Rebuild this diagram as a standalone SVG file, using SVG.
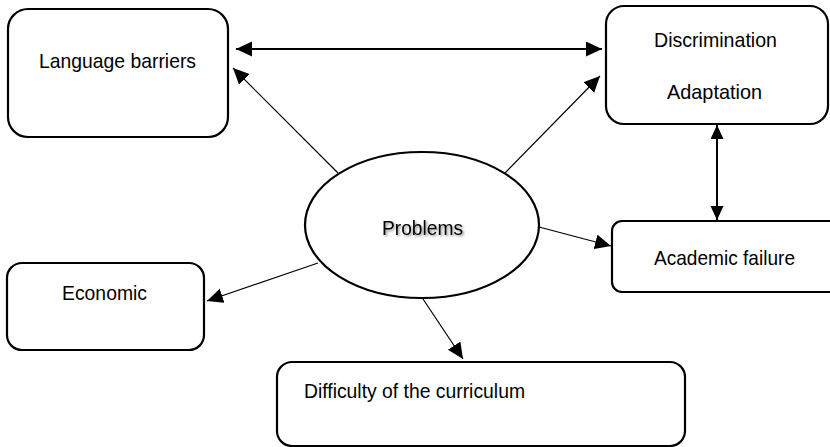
<svg xmlns="http://www.w3.org/2000/svg" width="830" height="447" viewBox="0 0 830 447">
<style>
.box{fill:#fff;stroke:#000;stroke-width:2.2}
.lbl{font-family:"Liberation Sans",Arial,sans-serif;font-size:21px;fill:#000}
.thin{stroke:#000;stroke-width:1.2;fill:none}
.thick{stroke:#000;stroke-width:2;fill:none}
</style>
<defs>
<marker id="ah" markerUnits="userSpaceOnUse" markerWidth="18" markerHeight="16" refX="16" refY="7.5" orient="auto-start-reverse" viewBox="0 0 18 16">
<path d="M0,0 L16,7.5 L0,15 Z" fill="#000"/>
</marker>
<marker id="ahs" markerUnits="userSpaceOnUse" markerWidth="16" markerHeight="14" refX="14" refY="6.5" orient="auto-start-reverse" viewBox="0 0 16 14">
<path d="M0,0 L14,6.5 L0,13 Z" fill="#000"/>
</marker>
<filter id="sh" x="-10%" y="-30%" width="130%" height="170%">
<feDropShadow dx="1.5" dy="1.5" stdDeviation="1.2" flood-color="#000" flood-opacity="0.45"/>
</filter>
</defs>
<g id="language">
<rect class="box" x="8" y="9" width="220" height="128" rx="20"/>
<text class="lbl" x="39" y="68" textLength="157" lengthAdjust="spacingAndGlyphs">Language barriers</text>
</g>
<g id="discrimination">
<rect class="box" x="606" y="6" width="222" height="118" rx="18"/>
<text class="lbl" x="654" y="47" textLength="123" lengthAdjust="spacingAndGlyphs">Discrimination</text>
<text class="lbl" x="667" y="99" textLength="95" lengthAdjust="spacingAndGlyphs">Adaptation</text>
</g>
<g id="problems">
<ellipse cx="422" cy="225" rx="117" ry="73" fill="#fff" stroke="#000" stroke-width="2.2"/>
<text class="lbl" x="382" y="235" textLength="81" lengthAdjust="spacingAndGlyphs" filter="url(#sh)">Problems</text>
</g>
<g id="academic">
<rect class="box" x="612" y="221" width="240" height="71" rx="10"/>
<text class="lbl" x="654" y="265" textLength="141" lengthAdjust="spacingAndGlyphs">Academic failure</text>
</g>
<g id="economic">
<rect class="box" x="7" y="263" width="197" height="87" rx="15"/>
<text class="lbl" x="62" y="300" textLength="85" lengthAdjust="spacingAndGlyphs">Economic</text>
</g>
<g id="difficulty">
<rect class="box" x="277" y="362" width="408" height="84" rx="15"/>
<text class="lbl" x="304" y="398" textLength="221" lengthAdjust="spacingAndGlyphs">Difficulty of the curriculum</text>
</g>
<g id="connectors">
<line class="thick" x1="236" y1="49" x2="602" y2="49" marker-start="url(#ah)" marker-end="url(#ah)"/>
<line class="thick" x1="717" y1="125" x2="717" y2="220" marker-start="url(#ahs)" marker-end="url(#ahs)"/>
<line class="thin" x1="338" y1="173" x2="233" y2="68" marker-end="url(#ah)"/>
<line class="thin" x1="505" y1="173" x2="600" y2="76" marker-end="url(#ah)"/>
<line class="thin" x1="539" y1="227" x2="611" y2="246" marker-end="url(#ah)"/>
<line class="thin" x1="318" y1="263" x2="207" y2="301" marker-end="url(#ah)"/>
<line class="thin" x1="423" y1="299" x2="463" y2="359" marker-end="url(#ah)"/>
</g>
</svg>
